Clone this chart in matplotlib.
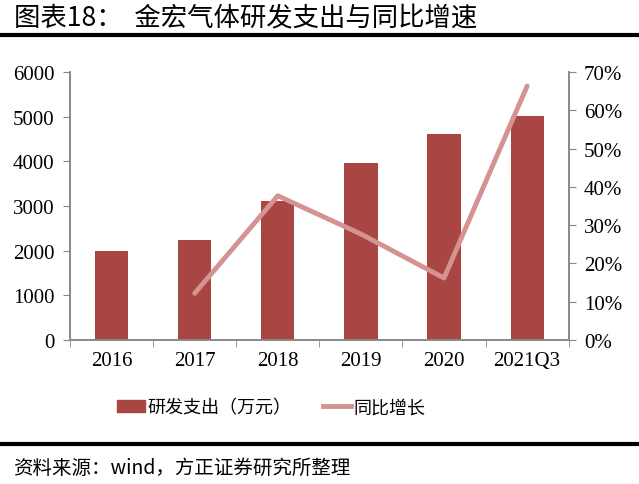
import matplotlib
matplotlib.use('Agg')
import matplotlib.pyplot as plt
from matplotlib.lines import Line2D
from matplotlib.patches import Patch

plt.rcParams['font.family'] = ['Noto Sans CJK SC', 'DejaVu Sans']

years = ['2016', '2017', '2018', '2019', '2020', '2021Q3']
rd_spend = [1990, 2240, 3110, 3970, 4620, 5010]
growth_years = ['2017', '2018', '2019', '2020', '2021Q3']
growth = [12.2, 37.7, 27.7, 16.2, 66.4]

bar_color = '#A94644'
line_color = '#D49391'
spine_color = '#888888'
serif = 'Liberation Serif'

fig = plt.figure(figsize=(6.39, 4.85), dpi=100)
ax = fig.add_axes([0.1095, 0.297, 0.7805, 0.552])

x = list(range(len(years)))
ax.bar(x, rd_spend, width=0.4, color=bar_color, zorder=2)
ax.set_xlim(-0.5, len(years) - 0.5)
ax.set_ylim(0, 6000)
ax.set_yticks(range(0, 6001, 1000))
ax.set_xticks(x)
ax.set_xticklabels(years)
ax.set_xticks([i - 0.5 for i in range(len(years) + 1)], minor=True)
ax.tick_params(axis='x', which='major', length=0, pad=8)
ax.tick_params(axis='x', which='minor', length=5, color=spine_color)
ax.tick_params(axis='y', length=5, color=spine_color, pad=6)
for lab in ax.get_xticklabels() + ax.get_yticklabels():
    lab.set_fontfamily(serif)
    lab.set_fontsize(15)

ax2 = ax.twinx()
gx = [years.index(y) for y in growth_years]
ax2.plot(gx, growth, color=line_color, lw=3.5, solid_capstyle='round', zorder=3)
ax2.set_ylim(0, 70)
ax2.set_yticks(range(0, 71, 10))
ax2.set_yticklabels(['%d%%' % v for v in range(0, 71, 10)])
ax2.tick_params(axis='y', length=5, color=spine_color, pad=6)
for lab in ax2.get_yticklabels():
    lab.set_fontfamily(serif)
    lab.set_fontsize(15)

for a in (ax, ax2):
    a.spines['top'].set_visible(False)
    for s in ('left', 'right', 'bottom'):
        a.spines[s].set_color(spine_color)
        a.spines[s].set_linewidth(1.2)

handles = [Patch(color=bar_color), Line2D([0], [0], color=line_color, lw=3.5)]
fig.legend(handles, ['研发支出（万元）', '同比增长'], loc='center left',
           bbox_to_anchor=(0.158, 0.158), ncol=2, frameon=False, fontsize=13,
           handlelength=1.55, handleheight=0.7, handletextpad=0.12,
           columnspacing=1.75)

fig.text(0.022, 0.962, '图表18：  金宏气体研发支出与同比增速', fontsize=19,
         va='center', ha='left')
fig.add_artist(Line2D([0, 1], [0.926, 0.926], color='black', lw=3))
fig.add_artist(Line2D([0, 1], [0.083, 0.083], color='black', lw=3))
fig.text(0.02, 0.035, '资料来源：wind，方正证券研究所整理', fontsize=14,
         style='italic', va='center', ha='left')

fig.savefig('out.png', dpi=100)
